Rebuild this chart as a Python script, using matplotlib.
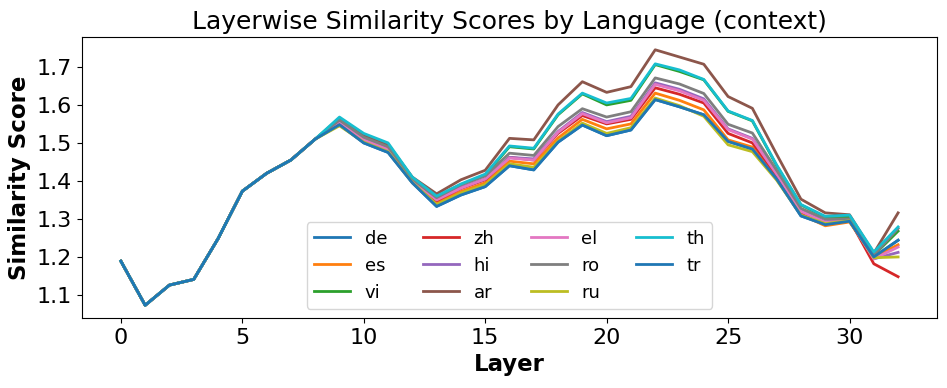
import matplotlib
matplotlib.use("Agg")
import matplotlib.pyplot as plt
from matplotlib.ticker import MultipleLocator

layers = list(range(33))
languages = ["de", "es", "vi", "zh", "hi", "ar", "el", "ro", "ru", "th", "tr"]

base_early = [1.189, 1.073, 1.126, 1.141, 1.248, 1.373, 1.420, 1.455, 1.510]

de = base_early + [1.548, 1.500, 1.475, 1.395, 1.333, 1.363, 1.385, 1.440, 1.429, 1.502, 1.547, 1.519, 1.534, 1.614, 1.595, 1.574, 1.504, 1.484, 1.405, 1.308, 1.285, 1.294, 1.200, 1.244]
es = base_early + [1.552, 1.505, 1.480, 1.398, 1.342, 1.372, 1.395, 1.452, 1.445, 1.513, 1.562, 1.537, 1.550, 1.631, 1.612, 1.587, 1.508, 1.489, 1.408, 1.312, 1.282, 1.292, 1.200, 1.232]
vi = base_early + [1.565, 1.522, 1.497, 1.408, 1.358, 1.390, 1.415, 1.490, 1.484, 1.574, 1.629, 1.600, 1.612, 1.706, 1.688, 1.666, 1.583, 1.558, 1.440, 1.337, 1.305, 1.305, 1.205, 1.268]
zh = base_early + [1.555, 1.510, 1.485, 1.400, 1.348, 1.380, 1.403, 1.462, 1.455, 1.525, 1.572, 1.550, 1.562, 1.645, 1.628, 1.605, 1.525, 1.500, 1.415, 1.318, 1.290, 1.298, 1.182, 1.148]
hi = base_early + [1.558, 1.512, 1.487, 1.402, 1.352, 1.383, 1.405, 1.462, 1.458, 1.530, 1.580, 1.556, 1.570, 1.658, 1.641, 1.616, 1.537, 1.512, 1.420, 1.322, 1.293, 1.298, 1.195, 1.212]
ar = base_early + [1.560, 1.520, 1.495, 1.410, 1.366, 1.403, 1.428, 1.512, 1.508, 1.600, 1.661, 1.633, 1.648, 1.745, 1.726, 1.707, 1.622, 1.591, 1.470, 1.352, 1.316, 1.311, 1.210, 1.316]
el = base_early + [1.556, 1.508, 1.483, 1.400, 1.350, 1.381, 1.405, 1.460, 1.455, 1.528, 1.577, 1.553, 1.566, 1.654, 1.637, 1.612, 1.535, 1.510, 1.418, 1.320, 1.291, 1.296, 1.195, 1.226]
ro = base_early + [1.560, 1.515, 1.490, 1.405, 1.356, 1.390, 1.413, 1.473, 1.467, 1.543, 1.590, 1.568, 1.582, 1.671, 1.655, 1.630, 1.549, 1.526, 1.428, 1.328, 1.300, 1.300, 1.205, 1.275]
ru = base_early + [1.545, 1.502, 1.477, 1.396, 1.338, 1.368, 1.390, 1.445, 1.436, 1.505, 1.552, 1.525, 1.540, 1.618, 1.598, 1.570, 1.495, 1.477, 1.402, 1.310, 1.288, 1.295, 1.198, 1.200]
th = base_early + [1.568, 1.525, 1.500, 1.410, 1.360, 1.392, 1.418, 1.492, 1.486, 1.576, 1.631, 1.605, 1.617, 1.708, 1.692, 1.667, 1.584, 1.559, 1.442, 1.338, 1.307, 1.310, 1.213, 1.279]
tr = base_early + [1.548, 1.500, 1.475, 1.395, 1.333, 1.363, 1.385, 1.440, 1.429, 1.502, 1.547, 1.519, 1.534, 1.614, 1.595, 1.574, 1.504, 1.484, 1.405, 1.308, 1.285, 1.294, 1.200, 1.244]

series = [de, es, vi, zh, hi, ar, el, ro, ru, th, tr]

fig = plt.figure(figsize=(9.47, 3.88), dpi=100)
ax = fig.add_axes([0.0866, 0.1804, 0.9028, 0.7242])

for lang, vals in zip(languages, series):
    ax.plot(layers, vals, label=lang, linewidth=2)

ax.yaxis.set_major_locator(MultipleLocator(0.1))
ax.set_title("Layerwise Similarity Scores by Language (context)", fontsize=18)
ax.set_xlabel("Layer", fontsize=16.5, fontweight="bold")
ax.set_ylabel("Similarity Score", fontsize=16.5, fontweight="bold")
ax.tick_params(axis="both", labelsize=16)
ax.legend(ncol=4, fontsize=13, loc="lower center", bbox_to_anchor=(0.5, 0.0))

fig.savefig("out.png", dpi=100)
